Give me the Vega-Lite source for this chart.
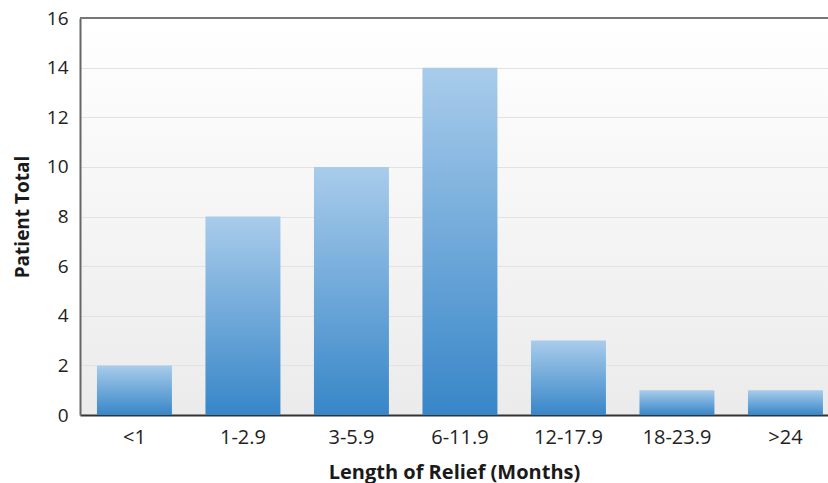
{
  "$schema": "https://vega.github.io/schema/vega-lite/v6.json",
  "width": 748,
  "height": 397,
  "autosize": {"type": "none"},
  "padding": {"left": 80, "top": 18, "right": 0, "bottom": 68},
  "background": "white",
  "view": {"stroke": "transparent", "strokeWidth": 0},
  "config": {
    "font": "Open Sans",
    "view": {
      "stroke": "transparent",
      "strokeWidth": 0,
      "fill": {
        "gradient": "linear",
        "x1": 0, "y1": 0, "x2": 0, "y2": 1,
        "stops": [
          {"offset": 0, "color": "#ffffff"},
          {"offset": 1, "color": "#ebebeb"}
        ]
      }
    }
  },
  "data": {
    "values": [
      {"months": "<1", "total": 2},
      {"months": "1-2.9", "total": 8},
      {"months": "3-5.9", "total": 10},
      {"months": "6-11.9", "total": 14},
      {"months": "12-17.9", "total": 3},
      {"months": "18-23.9", "total": 1},
      {"months": ">24", "total": 1}
    ]
  },
  "layer": [
    {
      "mark": {
        "type": "bar",
        "color": {
          "gradient": "linear",
          "x1": 0, "y1": 0, "x2": 0, "y2": 1,
          "stops": [
            {"offset": 0, "color": "#a9cceb"},
            {"offset": 1, "color": "#3786c8"}
          ]
        }
      },
      "encoding": {
        "x": {
          "field": "months",
          "type": "nominal",
          "sort": null,
          "scale": {"paddingInner": 0.309, "paddingOuter": 0.1015, "align": 0.77},
          "axis": {
            "title": "Length of Relief (Months)",
            "titleFont": "Open Sans",
            "titleFontSize": 20,
            "titleFontWeight": "bold",
            "titleColor": "#1a1a1a",
            "titlePadding": 15,
            "labelFontSize": 20,
            "labelColor": "#222222",
            "labelAngle": 0,
            "labelPadding": 12,
            "ticks": false,
            "domainColor": "#333333",
            "domainWidth": 2
          }
        },
        "y": {
          "field": "total",
          "type": "quantitative",
          "scale": {"domain": [0, 16]},
          "axis": {
            "title": "Patient Total",
            "titleFont": "Open Sans",
            "titleFontSize": 19,
            "titleFontWeight": "bold",
            "titleColor": "#1a1a1a",
            "titlePadding": 14,
            "values": [0, 2, 4, 6, 8, 10, 12, 14, 16],
            "labelFontSize": 19,
            "labelColor": "#222222",
            "labelPadding": 12,
            "ticks": false,
            "grid": true,
            "gridColor": "#e2e2e2",
            "gridWidth": 1.2,
            "domainColor": "#666666",
            "domainWidth": 2
          }
        }
      }
    },
    {
      "mark": {"type": "rule", "color": "#777777", "strokeWidth": 2},
      "encoding": {"y": {"datum": 16}}
    }
  ]
}
